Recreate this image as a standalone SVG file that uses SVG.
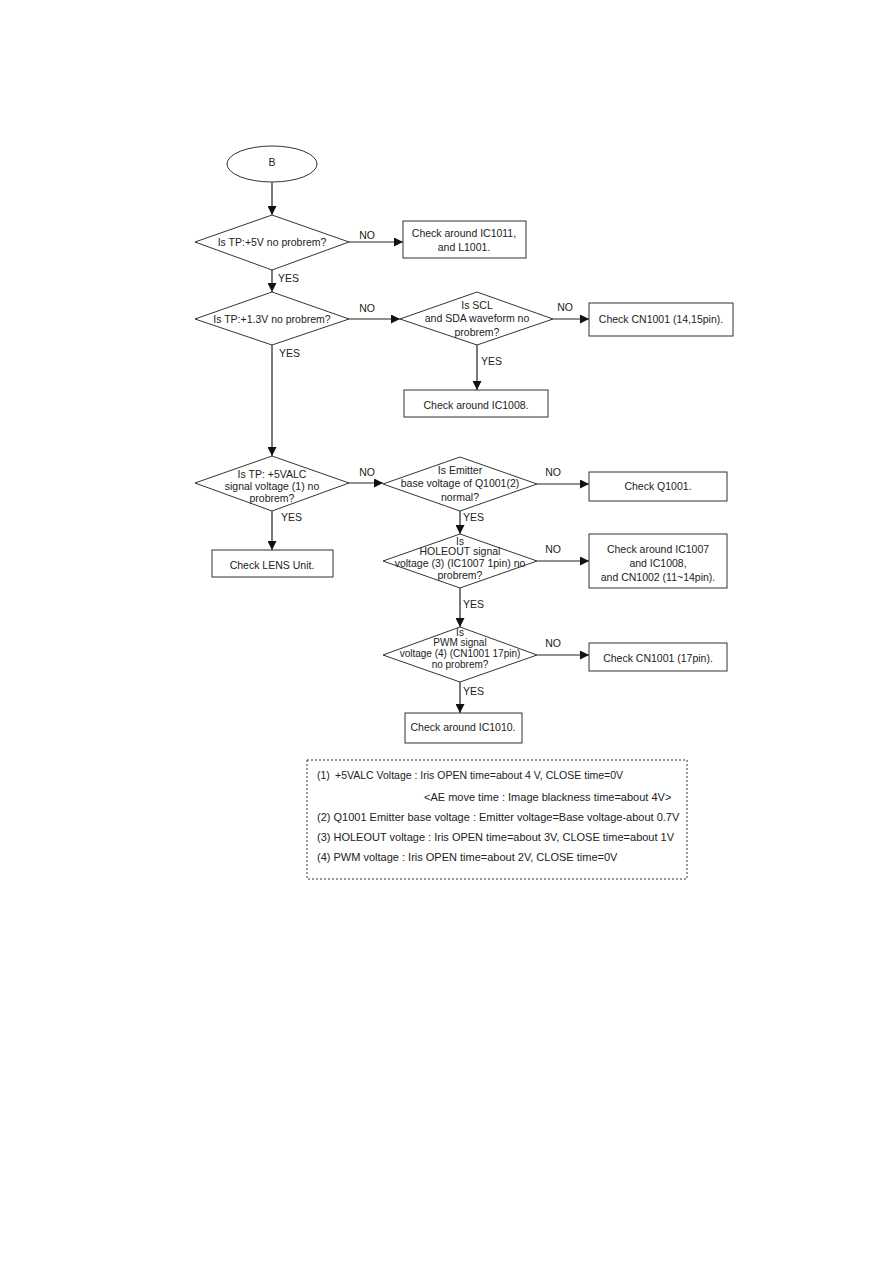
<svg xmlns="http://www.w3.org/2000/svg" width="893" height="1263" viewBox="0 0 893 1263">
<style>
text{font-family:"Liberation Sans",Arial,sans-serif;font-size:10.5px;fill:#222}
.c{text-anchor:middle}
.n{font-size:11px}
.s{font-size:10px}
.shape{fill:#fff;stroke:#333;stroke-width:1}
.conn line{stroke:#222;stroke-width:1.2}
.arr{marker-end:url(#ah)}
</style>
<defs>
<marker id="ah" viewBox="0 0 10 10" refX="10" refY="5" markerWidth="10" markerHeight="9" markerUnits="userSpaceOnUse" orient="auto">
<path d="M0,0 L10,5 L0,10 z" fill="#111"/>
</marker>
</defs>
<rect width="893" height="1263" fill="#fff"/>
<g id="connectors" class="conn">
<line class="arr" x1="272" y1="182" x2="272" y2="215"/>
<line class="arr" x1="349" y1="242" x2="403" y2="242"/>
<line class="arr" x1="272" y1="270" x2="272" y2="292"/>
<line class="arr" x1="349" y1="319" x2="400" y2="319"/>
<line class="arr" x1="553" y1="319" x2="589" y2="319"/>
<line class="arr" x1="477" y1="345" x2="477" y2="390"/>
<line class="arr" x1="272" y1="345" x2="272" y2="456"/>
<line class="arr" x1="349" y1="483" x2="383" y2="483"/>
<line class="arr" x1="272" y1="511" x2="272" y2="550"/>
<line class="arr" x1="537" y1="484" x2="589" y2="484"/>
<line class="arr" x1="460" y1="511" x2="460" y2="534"/>
<line class="arr" x1="537" y1="561" x2="589" y2="561"/>
<line class="arr" x1="460" y1="588" x2="460" y2="627"/>
<line class="arr" x1="537" y1="655" x2="589" y2="655"/>
<line class="arr" x1="460" y1="682" x2="460" y2="713"/>
<text x="367" y="239" class="c">NO</text>
<text x="278" y="282">YES</text>
<text x="367" y="312" class="c">NO</text>
<text x="279" y="357">YES</text>
<text x="565" y="311" class="c">NO</text>
<text x="481" y="365">YES</text>
<text x="367" y="476" class="c">NO</text>
<text x="281" y="521">YES</text>
<text x="553" y="476" class="c">NO</text>
<text x="463" y="521">YES</text>
<text x="553" y="553" class="c">NO</text>
<text x="463" y="608">YES</text>
<text x="553" y="647" class="c">NO</text>
<text x="463" y="695">YES</text>
</g>
<g id="start">
<ellipse class="shape" cx="272" cy="164" rx="45" ry="18"/>
<text x="272" y="166" class="c">B</text>
</g>
<g id="d1">
<polygon class="shape" points="272,215 349,242 272,270 195,242"/>
<text x="272" y="246" class="c">Is TP:+5V no probrem?</text>
</g>
<g id="b1">
<rect class="shape" x="403" y="221" width="123" height="37"/>
<text x="464" y="237" class="c">Check around IC1011,</text>
<text x="464" y="251" class="c">and L1001.</text>
</g>
<g id="d2">
<polygon class="shape" points="272,292 349,319 272,345 195,319"/>
<text x="272" y="323" class="c">Is TP:+1.3V no probrem?</text>
</g>
<g id="d3">
<polygon class="shape" points="477,292 553,319 477,345 400,319"/>
<text x="477" y="309" class="c">Is SCL</text>
<text x="477" y="322" class="c">and SDA waveform no</text>
<text x="477" y="336" class="c">probrem?</text>
</g>
<g id="b2">
<rect class="shape" x="589" y="303" width="144" height="33"/>
<text x="661" y="323" class="c">Check CN1001 (14,15pin).</text>
</g>
<g id="b3">
<rect class="shape" x="404" y="390" width="144" height="27"/>
<text x="476" y="409" class="c">Check around IC1008.</text>
</g>
<g id="d4">
<polygon class="shape" points="272,456 349,483 272,511 195,483"/>
<text x="272" y="478" class="c">Is TP: +5VALC</text>
<text x="272" y="490" class="c">signal voltage (1) no</text>
<text x="272" y="502" class="c">probrem?</text>
</g>
<g id="b4">
<rect class="shape" x="212" y="550" width="121" height="27"/>
<text x="272" y="569" class="c">Check LENS Unit.</text>
</g>
<g id="d5">
<polygon class="shape" points="460,457 537,484 460,511 383,484"/>
<text x="460" y="474" class="c">Is Emitter</text>
<text x="460" y="487" class="c">base voltage of Q1001(2)</text>
<text x="460" y="501" class="c">normal?</text>
</g>
<g id="b5">
<rect class="shape" x="589" y="472" width="138" height="29"/>
<text x="658" y="490" class="c">Check Q1001.</text>
</g>
<g id="d6">
<polygon class="shape" points="460,534 537,561 460,588 383,561"/>
<text x="460" y="545" class="c s">Is</text>
<text x="460" y="555" class="c">HOLEOUT signal</text>
<text x="460" y="567" class="c">voltage (3) (IC1007 1pin) no</text>
<text x="460" y="579" class="c">probrem?</text>
</g>
<g id="b6">
<rect class="shape" x="589" y="534" width="138" height="54"/>
<text x="658" y="553" class="c">Check around IC1007</text>
<text x="658" y="567" class="c">and IC1008,</text>
<text x="658" y="581" class="c">and CN1002 (11~14pin).</text>
</g>
<g id="d7">
<polygon class="shape" points="460,627 537,655 460,682 383,655"/>
<text x="460" y="636" class="c s">Is</text>
<text x="460" y="646" class="c s">PWM signal</text>
<text x="460" y="657" class="c s">voltage (4) (CN1001 17pin)</text>
<text x="460" y="668" class="c s">no probrem?</text>
</g>
<g id="b7">
<rect class="shape" x="589" y="643" width="138" height="28"/>
<text x="658" y="662" class="c">Check CN1001 (17pin).</text>
</g>
<g id="b8">
<rect class="shape" x="405" y="713" width="117" height="30"/>
<text x="463" y="731" class="c">Check around IC1010.</text>
</g>
<g id="notes">
<rect x="307" y="760" width="380" height="119" fill="none" stroke="#333" stroke-width="1" stroke-dasharray="2,2"/>
<text x="317" y="779">(1)</text>
<text x="335" y="779">+5VALC Voltage : Iris OPEN time=about 4 V, CLOSE time=0V</text>
<text x="424" y="801" class="n">&lt;AE move time : Image blackness time=about 4V&gt;</text>
<text x="317" y="821" class="n">(2) Q1001 Emitter base voltage : Emitter voltage=Base voltage-about 0.7V</text>
<text x="317" y="841" class="n">(3) HOLEOUT voltage : Iris OPEN time=about 3V, CLOSE time=about 1V</text>
<text x="317" y="861" class="n">(4) PWM voltage : Iris OPEN time=about 2V, CLOSE time=0V</text>
</g>
</svg>
